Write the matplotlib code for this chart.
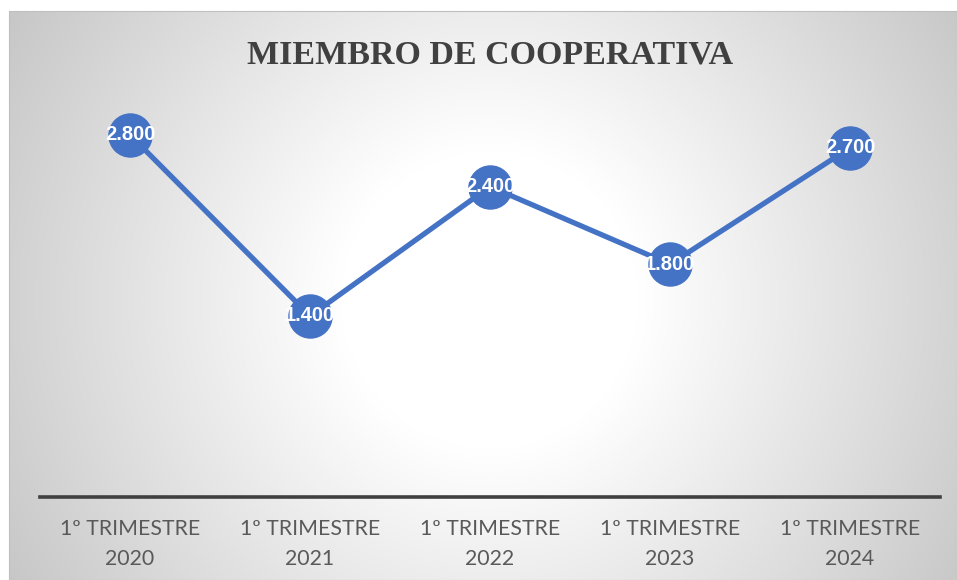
import numpy as np
import matplotlib
matplotlib.use("Agg")
import matplotlib.pyplot as plt

categories = ["1º TRIMESTRE\n2020", "1º TRIMESTRE\n2021", "1º TRIMESTRE\n2022",
              "1º TRIMESTRE\n2023", "1º TRIMESTRE\n2024"]
values = [2800, 1400, 2400, 1800, 2700]
value_labels = ["2.800", "1.400", "2.400", "1.800", "2.700"]
title = "MIEMBRO DE COOPERATIVA"

W, H = 957, 580
fig = plt.figure(figsize=(W / 100, H / 100), dpi=100)
fig.patch.set_facecolor("white")

# background gradient panel
bx0, by0, bx1, by1 = 9, 11, 957, 580
bg = fig.add_axes([bx0 / W, 1 - by1 / H, (bx1 - bx0) / W, (by1 - by0) / H])
nx, ny = 480, 290
xx, yy = np.meshgrid(np.linspace(bx0, bx1, nx), np.linspace(by0, by1, ny))
cx, cy = 490, 300
r = np.sqrt(((xx - cx) / 1.0) ** 2 + ((yy - cy) / 1.0) ** 2)
t = np.clip((r - 150) / (560 - 150), 0, 1)
lo, hi = 1.0, 0.78
img = hi + (lo - hi) * (1 - t)
rgb = np.dstack([img, img, img])
bg.imshow(rgb, extent=[0, 1, 0, 1], aspect="auto", origin="upper", interpolation="bilinear")
bg.set_axis_off()
fig.add_artist(plt.Rectangle((bx0 / W, 0), (bx1 - bx0) / W, 1 - by0 / H,
                             transform=fig.transFigure, fill=False,
                             edgecolor="#bfbfbf", linewidth=0.8))

# plot axes
x0, x1 = 40, 940
y0, ytop = 497, 109
ax = fig.add_axes([x0 / W, 1 - y0 / H, (x1 - x0) / W, (y0 - ytop) / H])
ax.patch.set_alpha(0)
ax.set_xlim(-0.5, len(values) - 0.5)
ax.set_ylim(0, 3000)
xs = np.arange(len(values))
ax.plot(xs, values, color="#4472C4", linewidth=3.8, marker="o", markersize=31,
        markerfacecolor="#4472C4", markeredgecolor="#4472C4", solid_capstyle="round",
        zorder=3)
for x, v, lab in zip(xs, values, value_labels):
    ax.text(x, v, lab, ha="center", va="center", color="white",
            fontsize=14.5, fontweight="bold", family="Liberation Sans", zorder=4)

for s in ["top", "right", "left"]:
    ax.spines[s].set_visible(False)
ax.spines["bottom"].set_color("#404040")
ax.spines["bottom"].set_linewidth(2.6)
ax.set_yticks([])
ax.set_xticks(xs)
ax.set_xticklabels(categories, fontsize=15.3, color="#595959", family="Lato",
                   linespacing=1.62)
ax.tick_params(axis="x", length=0, pad=16)

fig.text(490 / W, 1 - 55 / H, title, ha="center", va="center", fontsize=24.5,
         fontweight="bold", color="#404040", family="Liberation Serif")

fig.savefig("out.png", dpi=100, facecolor="white")
